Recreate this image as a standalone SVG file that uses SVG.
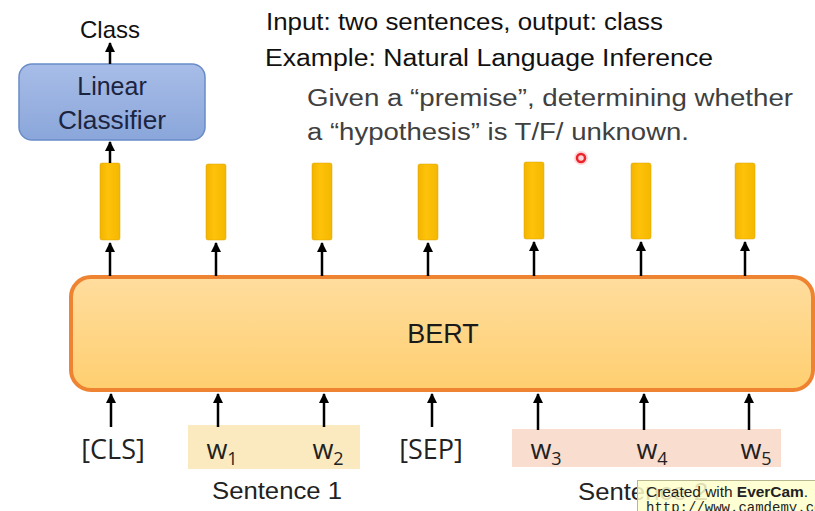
<svg xmlns="http://www.w3.org/2000/svg" width="815" height="511" viewBox="0 0 815 511">
<defs>
<linearGradient id="bertG" x1="0" y1="0" x2="0" y2="1"><stop offset="0" stop-color="#FFDD9E"/><stop offset="1" stop-color="#FFCF70"/></linearGradient>
<linearGradient id="linG" x1="0" y1="0" x2="0" y2="1"><stop offset="0" stop-color="#A8BDE8"/><stop offset="1" stop-color="#8AA6DA"/></linearGradient>
<linearGradient id="barG" x1="0" y1="0" x2="1" y2="0"><stop offset="0" stop-color="#F2B400"/><stop offset="0.4" stop-color="#FFC20A"/><stop offset="1" stop-color="#F5B800"/></linearGradient>
<marker id="ah" viewBox="0 0 10 10" refX="9" refY="5" markerWidth="4" markerHeight="4" orient="auto" markerUnits="strokeWidth"><path d="M0,0 L10,5 L0,10 z" fill="#000"/></marker>
</defs>
<style>
.t{font-family:"Liberation Sans","Open Sans",sans-serif;}
.arr{stroke:#000;stroke-width:2.5;fill:none;marker-end:url(#ah);}
.bar{fill:url(#barG);stroke:#D9A000;stroke-width:0.5;}
.tok{font-family:"Open Sans","Liberation Sans",sans-serif;font-size:27px;fill:#222;text-anchor:middle;}
.sub{font-size:18px;}
</style>
<rect width="815" height="511" fill="#fff"/>

<g id="header" class="t">
<text x="266" y="30" font-size="23" fill="#111" textLength="397" lengthAdjust="spacingAndGlyphs">Input: two sentences, output: class</text>
<text x="265" y="66" font-size="23" fill="#111" textLength="448" lengthAdjust="spacingAndGlyphs">Example: Natural Language Inference</text>
<text x="307" y="106" font-size="23" fill="#404040" textLength="486" lengthAdjust="spacingAndGlyphs">Given a “premise”, determining whether</text>
<text x="307" y="140" font-size="23" fill="#404040" textLength="382" lengthAdjust="spacingAndGlyphs">a “hypothesis” is T/F/ unknown.</text>
</g>

<g id="pointer"><circle cx="581" cy="158" r="4" fill="none" stroke="#E8202A" stroke-width="2.5"/><circle cx="581" cy="158" r="7" fill="#FF3030" opacity="0.2"/></g>

<g id="class-label"><text class="t" x="110" y="38" font-size="24" fill="#111" text-anchor="middle">Class</text></g>

<g id="linear-classifier">
<rect x="19" y="64" width="186" height="76" rx="13" fill="url(#linG)" stroke="#6A8CC8" stroke-width="1.5"/>
<text class="t" x="112" y="95" font-size="25" fill="#1C2440" text-anchor="middle">Linear</text>
<text class="t" x="112" y="129" font-size="25" fill="#1C2440" text-anchor="middle" textLength="108" lengthAdjust="spacingAndGlyphs">Classifier</text>
</g>

<g id="bert">
<rect x="71" y="277" width="742" height="113" rx="20" fill="url(#bertG)" stroke="#EE8332" stroke-width="4"/>
<text class="t" x="443" y="343" font-size="27" fill="#1a1a1a" text-anchor="middle">BERT</text>
</g>

<g id="outputs">
<rect class="bar" x="100" y="163" width="20" height="77" rx="2"/>
<rect class="bar" x="206" y="164" width="20" height="76" rx="2"/>
<rect class="bar" x="312" y="163" width="20" height="77" rx="2"/>
<rect class="bar" x="418" y="164" width="20" height="76" rx="2"/>
<rect class="bar" x="524" y="162" width="20" height="77" rx="2"/>
<rect class="bar" x="631" y="163" width="20" height="76" rx="2"/>
<rect class="bar" x="735" y="163" width="20" height="76" rx="2"/>
</g>

<g id="sentence-bg">
<rect x="188" y="425" width="172" height="44" fill="#FBEAC0"/>
<rect x="512" y="429" width="269" height="38" fill="#F9DDCF"/>
</g>

<g id="tokens">
<text class="tok" x="113" y="459">[CLS]</text>
<text class="tok" x="222" y="459">w<tspan class="sub" dy="6">1</tspan></text>
<text class="tok" x="328" y="459">w<tspan class="sub" dy="6">2</tspan></text>
<text class="tok" x="431" y="459">[SEP]</text>
<text class="tok" x="546" y="459">w<tspan class="sub" dy="6">3</tspan></text>
<text class="tok" x="652" y="459">w<tspan class="sub" dy="6">4</tspan></text>
<text class="tok" x="756" y="459">w<tspan class="sub" dy="6">5</tspan></text>
</g>

<g id="sentence-labels">
<text class="t" x="212" y="499" font-size="23" fill="#222" textLength="130" lengthAdjust="spacingAndGlyphs">Sentence 1</text>
<text class="t" x="578" y="500" font-size="23" fill="#222" textLength="130" lengthAdjust="spacingAndGlyphs">Sentence 2</text>
</g>

<g id="connectors">
<line class="arr" x1="110" y1="163" x2="110" y2="142"/>
<line class="arr" x1="110" y1="64" x2="110" y2="43"/>
<line class="arr" x1="110" y1="276" x2="110" y2="243"/>
<line class="arr" x1="216" y1="276" x2="216" y2="243"/>
<line class="arr" x1="322" y1="276" x2="322" y2="243"/>
<line class="arr" x1="428" y1="276" x2="428" y2="243"/>
<line class="arr" x1="534" y1="276" x2="534" y2="242"/>
<line class="arr" x1="641" y1="276" x2="641" y2="242"/>
<line class="arr" x1="745" y1="276" x2="745" y2="242"/>
<line class="arr" x1="111" y1="427" x2="111" y2="394"/>
<line class="arr" x1="218" y1="427" x2="218" y2="394"/>
<line class="arr" x1="324" y1="427" x2="324" y2="394"/>
<line class="arr" x1="432" y1="427" x2="432" y2="394"/>
<line class="arr" x1="538" y1="430" x2="538" y2="394"/>
<line class="arr" x1="644" y1="430" x2="644" y2="394"/>
<line class="arr" x1="749" y1="430" x2="749" y2="394"/>
</g>

<g id="watermark">
<rect x="637.5" y="480.5" width="180" height="34" fill="#FFFFCC" fill-opacity="0.85" stroke="#B8B890" stroke-width="1"/>
<text class="t" x="646" y="497" font-size="14" fill="#222" textLength="162" lengthAdjust="spacingAndGlyphs">Created with <tspan font-weight="bold">EverCam</tspan>.</text>
<text font-family="Liberation Mono, monospace" x="646" y="512" font-size="14" fill="#222">http://www.camdemy.com</text>
</g>
</svg>
